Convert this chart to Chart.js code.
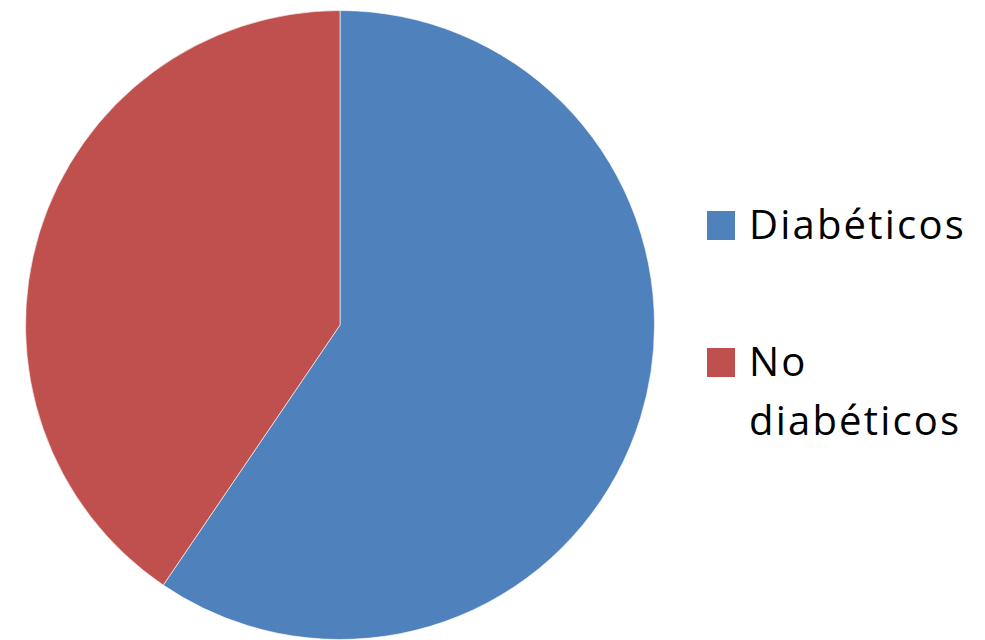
<!DOCTYPE html>
<html>
<head>
<meta charset="utf-8">
<script src="https://cdn.jsdelivr.net/npm/chart.js@4/dist/chart.umd.min.js"></script>
<style>
  html, body { margin: 0; padding: 0; background: #fff; overflow: hidden; }
  body { width: 985px; height: 640px; position: relative; }
  #pieBox { position: absolute; left: 25px; top: 10px; width: 630px; height: 630px; }
  #legend { position: absolute; left: 0; top: 0; font-family: "Open Sans", sans-serif; font-size: 40px; letter-spacing: 2.2px; color: #000; }
  .box { position: absolute; left: 707px; width: 28px; height: 29px; }
  .txt { position: absolute; left: 749px; line-height: 59px; white-space: nowrap; }
</style>
</head>
<body>
<div id="pieBox"><canvas id="pie"></canvas></div>
<div id="legend"></div>
<script>
// categorías y porcentajes
const labels = ['Diabéticos', 'No diabéticos'];
const legendLines = [['Diabéticos'], ['No', 'diabéticos']];
const values = [59.5, 40.5];
const colors = ['#4F81BD', '#C0504D'];

new Chart(document.getElementById('pie'), {
    type: 'pie',
    data: {
        labels: labels,
        datasets: [{
            data: values,
            backgroundColor: colors,
            borderColor: 'rgba(255,255,255,0.6)',
            borderWidth: 1
        }]
    },
    options: {
        responsive: true,
        maintainAspectRatio: false,
        animation: false,
        layout: { padding: 0 },
        plugins: {
            legend: { display: false },
            tooltip: { enabled: false }
        }
    }
});

// leyenda a la derecha (cuadro + texto)
const legendEl = document.getElementById('legend');
const boxTop = [211, 348];
const textTop = [194, 331];
labels.forEach((lab, i) => {
    const box = document.createElement('div');
    box.className = 'box';
    box.style.background = colors[i];
    box.style.top = boxTop[i] + 'px';
    const txt = document.createElement('div');
    txt.className = 'txt';
    txt.style.top = textTop[i] + 'px';
    txt.innerHTML = legendLines[i].join('<br>');
    legendEl.appendChild(box);
    legendEl.appendChild(txt);
});
</script>
</body>
</html>
